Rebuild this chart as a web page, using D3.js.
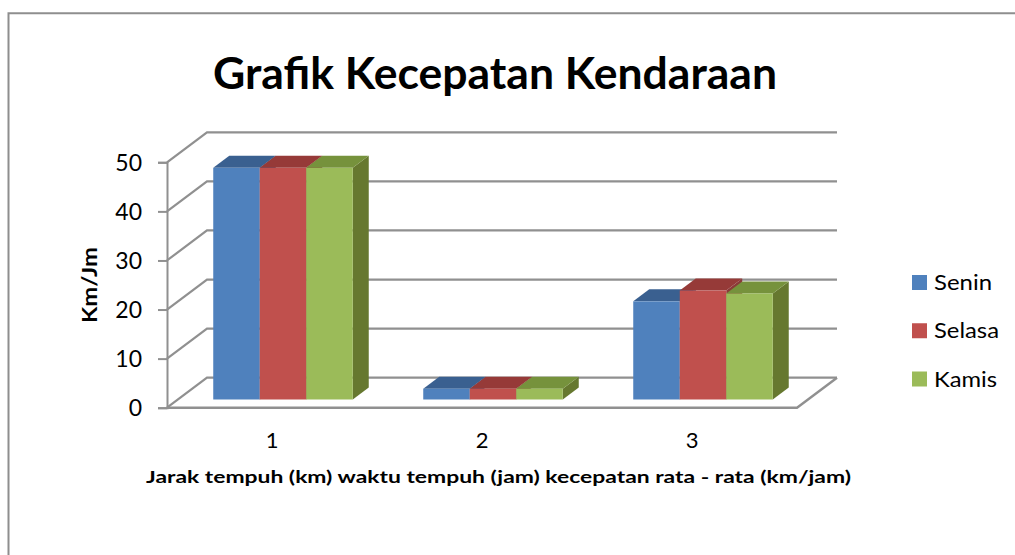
<!DOCTYPE html>
<html>
<head>
<meta charset="utf-8">
<script src="https://cdn.jsdelivr.net/npm/d3@7"></script>
<style>
  body { margin: 0; background: #fff; }
  svg { display: block; }
  text { font-family: Lato, sans-serif; fill: #000; }
</style>
</head>
<body>
<div id="chart"></div>
<script>
const categories = ["1", "2", "3"];
const seriesNames = ["Senin", "Selasa", "Kamis"];
const senin = [47.2, 2.2, 20.0];
const selasa = [47.2, 2.2, 22.2];
const kamis = [47.2, 2.2, 21.6];
const yTicks = [0, 10, 20, 30, 40, 50];

const seriesValues = [senin, selasa, kamis];
const frontColors = ["#4f81bd", "#c0504d", "#9bbb59"];
const topColors = ["#3a6090", "#963a38", "#76923c"];
const sideColors = ["#385d8a", "#8a3a38", "#66782f"];
const gridColor = "#909090";

const chartWidth = 1015;
const chartHeight = 555;

// oblique offsets of the fake 3D box
const wallDx = 40, wallDy = 30;
const barDx = 11, barDy = 8.2;
const depthDx = 16, depthDy = 12;

const x = d3.scaleBand().domain(categories).range([167, 797]);
const xSeries = d3.scaleBand().domain(seriesNames).range([0, x.bandwidth()]).paddingOuter(0.758);
const y = d3.scaleLinear().domain([0, 50]).range([407.7, 162.3]);

const svg = d3.select("#chart").append("svg")
  .attr("width", chartWidth)
  .attr("height", chartHeight);

// outer frame, only top and left survive in the crop
svg.append("path")
  .attr("d", "M8.5,555V13.3H1015")
  .attr("fill", "none")
  .attr("stroke", "#8e8e8e")
  .attr("stroke-width", 2);

// gridlines on back wall plus the slanted bits on the side wall
const x0 = x.range()[0], x1 = x.range()[1];
svg.append("g").selectAll("path")
  .data(yTicks)
  .join("path")
  .attr("d", d => `M${x0},${y(d)}L${x0 + wallDx},${y(d) - wallDy}H${x1 + wallDx}`)
  .attr("fill", "none")
  .attr("stroke", gridColor)
  .attr("stroke-width", 2.2);

// floor front edge and right edge
svg.append("path")
  .attr("d", `M${x0},${y(0)}H${x1}L${x1 + wallDx},${y(0) - wallDy}`)
  .attr("fill", "none")
  .attr("stroke", gridColor)
  .attr("stroke-width", 2.4);

// bars: one list per series, series painted left to right
seriesNames.forEach(function (name, s) {
  const g = svg.append("g");
  const bars = categories.map((c, i) => {
    const left = x(c) + xSeries(name) + barDx;
    return {
      left: left,
      right: left + xSeries.bandwidth(),
      top: y(seriesValues[s][i]) - barDy,
      bottom: y(0) - barDy
    };
  });

  g.selectAll("path.side")
    .data(bars)
    .join("path")
    .attr("class", "side")
    .attr("fill", sideColors[s])
    .attr("d", b => `M${b.right},${b.top}L${b.right + depthDx},${b.top - depthDy}V${b.bottom - depthDy}L${b.right},${b.bottom}Z`);

  g.selectAll("path.top")
    .data(bars)
    .join("path")
    .attr("class", "top")
    .attr("fill", topColors[s])
    .attr("d", b => `M${b.left},${b.top}L${b.left + depthDx},${b.top - depthDy}H${b.right + depthDx}L${b.right},${b.top}Z`);

  g.selectAll("rect")
    .data(bars)
    .join("rect")
    .attr("x", b => b.left)
    .attr("y", b => b.top)
    .attr("width", b => b.right - b.left)
    .attr("height", b => b.bottom - b.top)
    .attr("fill", frontColors[s]);
});

// y axis
const yAxis = svg.append("g")
  .attr("transform", `translate(${x0},0)`)
  .call(d3.axisLeft(y).tickValues(yTicks).tickSize(9).tickPadding(16));
yAxis.select(".domain").attr("stroke", gridColor).attr("stroke-width", 2);
yAxis.selectAll(".tick line").attr("stroke", gridColor).attr("stroke-width", 2);
yAxis.selectAll("text").attr("font-size", 23).attr("font-family", "Lato").attr("dy", "0.36em");

// x axis labels
const xAxis = svg.append("g")
  .attr("transform", `translate(0,${y(0)})`)
  .call(d3.axisBottom(x).tickSize(0).tickPadding(25));
xAxis.select(".domain").remove();
xAxis.selectAll("text").attr("font-size", 22).attr("font-family", "Lato");

// titles
svg.append("text")
  .attr("x", 213).attr("y", 89)
  .attr("font-size", 43).attr("font-weight", 700)
  .attr("textLength", 564).attr("lengthAdjust", "spacingAndGlyphs")
  .text("Grafik Kecepatan Kendaraan");

svg.append("text")
  .attr("x", 146).attr("y", 483)
  .attr("font-size", 17).attr("font-weight", 700)
  .attr("textLength", 705).attr("lengthAdjust", "spacingAndGlyphs")
  .text("Jarak tempuh (km) waktu tempuh (jam) kecepatan rata - rata (km/jam)");

svg.append("text")
  .attr("transform", "translate(97,323) rotate(-90)")
  .attr("font-size", 20).attr("font-weight", 700)
  .attr("textLength", 76).attr("lengthAdjust", "spacingAndGlyphs")
  .text("Km/Jm");

// legend
const legendY = d3.scalePoint().domain(seriesNames).range([282.5, 379]);
const legend = svg.append("g").selectAll("g")
  .data(seriesNames)
  .join("g")
  .attr("transform", d => `translate(912,${legendY(d)})`);
legend.append("rect")
  .attr("y", -7.5)
  .attr("width", 15).attr("height", 15)
  .attr("fill", (d, i) => frontColors[i]);
legend.append("text")
  .attr("x", 22).attr("y", 7.5)
  .attr("font-size", 22)
  .attr("textLength", (d, i) => [58, 65, 63][i])
  .attr("lengthAdjust", "spacingAndGlyphs")
  .text(d => d);
</script>
</body>
</html>
